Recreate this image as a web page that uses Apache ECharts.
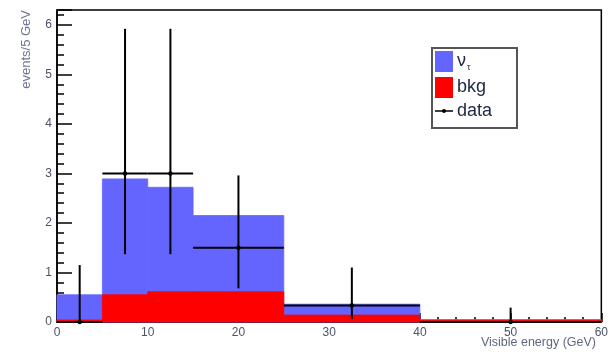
<!DOCTYPE html>
<html>
<head>
<meta charset="utf-8">
<script src="https://cdn.jsdelivr.net/npm/echarts@6/dist/echarts.min.js"></script>
<style>
  html, body { margin: 0; padding: 0; background: #fff; }
  #chart { width: 611px; height: 352px; }
</style>
</head>
<body>
<div id="chart"></div>
<script>
// Histogram bins (GeV) and stacked contents, events per 5 GeV
const binEdges = [0, 5, 10, 15, 25, 40, 60];
const bkg      = [0.04, 0.55, 0.61, 0.61, 0.14, 0.03];
const nutau    = [0.51, 2.34, 2.11, 1.54, 0.22, 0.02];

// Observed data points with asymmetric (Poisson) errors
const dataX    = [2.5, 7.5, 12.5, 20, 32.5, 50];
const dataY    = [0, 3, 3, 1.5, 0.333, 0];
const dataXErr = [2.5, 2.5, 2.5, 5, 7.5, 10];
const dataLow  = [0, 1.37, 1.37, 0.68, 0.06, 0];
const dataHigh = [1.15, 5.92, 5.92, 2.96, 1.10, 0.29];

const BLUE = '#6464ff';
const RED = '#ff0000';
const TXT = '#4a5268';
const FONT = 'Liberation Sans, Arial, sans-serif';

const totalRows = binEdges.slice(0, -1).map((lo, i) => [lo, binEdges[i + 1], 0, bkg[i] + nutau[i]]);
const bkgRows = binEdges.slice(0, -1).map((lo, i) => [lo, binEdges[i + 1], 0, bkg[i]]);
const dataRows = dataX.map((x, i) => [x, dataY[i], dataXErr[i], dataLow[i], dataHigh[i]]);

function binRect(color) {
  return function (params, api) {
    const p0 = api.coord([api.value(0), api.value(2)]);
    const p1 = api.coord([api.value(1), api.value(3)]);
    return {
      type: 'rect',
      shape: { x: p0[0], y: p1[1], width: p1[0] - p0[0], height: p0[1] - p1[1] },
      style: { fill: color, stroke: color, lineWidth: 0.8 }
    };
  };
}

function errorBar(params, api) {
  const x = api.value(0), y = api.value(1), dx = api.value(2);
  const lo = api.value(3), hi = api.value(4);
  const c = api.coord([x, y]);
  const left = api.coord([x - dx, y]);
  const right = api.coord([x + dx, y]);
  const bottom = api.coord([x, lo]);
  const top = api.coord([x, hi]);
  const st = { stroke: '#000', lineWidth: 2 };
  return {
    type: 'group',
    children: [
      { type: 'line', shape: { x1: left[0], y1: left[1], x2: right[0], y2: right[1] }, style: st },
      { type: 'line', shape: { x1: bottom[0], y1: bottom[1], x2: top[0], y2: top[1] }, style: st },
      { type: 'circle', shape: { cx: c[0], cy: c[1], r: 2.2 }, style: { fill: '#000' } }
    ]
  };
}

const chart = echarts.init(document.getElementById('chart'), null, { renderer: 'canvas' });

chart.setOption({
  animation: false,
  backgroundColor: '#fff',
  grid: {
    left: 57, right: 9, top: 10, bottom: 30,
    show: true, borderColor: '#000', borderWidth: 1.5, backgroundColor: 'transparent'
  },
  xAxis: {
    type: 'value', min: 0, max: 60, interval: 10,
    axisLine: { show: true, lineStyle: { color: '#000', width: 1.5 } },
    axisTick: { show: true, inside: true, length: 9, lineStyle: { color: '#000', width: 1.5 } },
    minorTick: { show: true, splitNumber: 5, length: 5, lineStyle: { color: '#000', width: 1.5 } },
    splitLine: { show: false },
    axisLabel: { color: TXT, fontSize: 12, fontFamily: FONT, margin: 5 }
  },
  yAxis: {
    type: 'value', min: 0, max: 6.3, interval: 1,
    axisLine: { show: true, lineStyle: { color: '#000', width: 1.5 } },
    axisTick: { show: true, inside: true, length: 15, lineStyle: { color: '#000', width: 1.5 } },
    minorTick: { show: true, splitNumber: 5, length: 7, lineStyle: { color: '#000', width: 1.5 } },
    splitLine: { show: false },
    axisLabel: { color: TXT, fontSize: 12, fontFamily: FONT, margin: 5, showMaxLabel: false }
  },
  series: [
    {
      name: 'total', type: 'custom', data: totalRows,
      encode: { x: [0, 1], y: [2, 3] }, renderItem: binRect(BLUE), z: 1
    },
    {
      name: 'bkg', type: 'custom', data: bkgRows,
      encode: { x: [0, 1], y: [2, 3] }, renderItem: binRect(RED), z: 2
    },
    {
      name: 'data', type: 'custom', data: dataRows,
      encode: { x: 0, y: [1, 3, 4] }, renderItem: errorBar, z: 3
    }
  ],
  graphic: [
    // axis titles
    {
      type: 'text', x: 20, y: 10, rotation: Math.PI / 2, z: 10,
      style: {
        text: 'events/5 GeV', fill: '#6b7491', fontSize: 13, fontFamily: FONT,
        align: 'right', verticalAlign: 'top'
      }
    },
    {
      type: 'text', x: 596, y: 343, z: 10,
      style: {
        text: 'Visible energy (GeV)', fill: '#5e6782', fontSize: 12.5, fontFamily: FONT,
        align: 'right', verticalAlign: 'middle'
      }
    },
    // legend box
    {
      type: 'rect', z: 10,
      shape: { x: 432, y: 48, width: 85, height: 80 },
      style: { fill: '#fff', stroke: '#555', lineWidth: 2 }
    },
    { type: 'rect', z: 11, shape: { x: 435, y: 51, width: 18, height: 21 }, style: { fill: BLUE } },
    { type: 'rect', z: 11, shape: { x: 435, y: 77, width: 18, height: 21 }, style: { fill: RED } },
    { type: 'line', z: 11, shape: { x1: 435, y1: 111, x2: 453, y2: 111 }, style: { stroke: '#000', lineWidth: 1.5 } },
    { type: 'circle', z: 11, shape: { cx: 444, cy: 111, r: 2 }, style: { fill: '#000' } },
    {
      type: 'text', z: 11, x: 457, y: 61,
      style: { text: 'ν', fill: '#222b45', fontSize: 18, fontFamily: FONT, verticalAlign: 'middle' }
    },
    {
      type: 'text', z: 11, x: 467, y: 68,
      style: { text: 'τ', fill: '#222b45', fontSize: 9, fontFamily: FONT, verticalAlign: 'middle' }
    },
    {
      type: 'text', z: 11, x: 457, y: 87,
      style: { text: 'bkg', fill: '#222b45', fontSize: 18, fontFamily: FONT, verticalAlign: 'middle' }
    },
    {
      type: 'text', z: 11, x: 457, y: 111,
      style: { text: 'data', fill: '#222b45', fontSize: 18, fontFamily: FONT, verticalAlign: 'middle' }
    }
  ]
});
</script>
</body>
</html>
